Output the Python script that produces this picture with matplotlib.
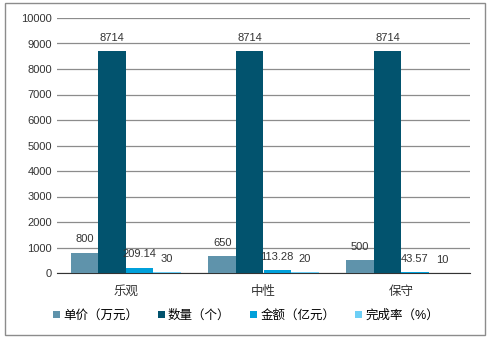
import matplotlib

matplotlib.use("Agg")
import matplotlib.pyplot as plt
import numpy as np
from matplotlib.patches import Rectangle

plt.rcParams["font.family"] = ["Liberation Sans", "Noto Sans CJK SC", "DejaVu Sans"]

categories = ["乐观", "中性", "保守"]
series_names = ["单价（万元）", "数量（个）", "金额（亿元）", "完成率（%）"]
unit_price = [800, 650, 500]
quantity = [8714, 8714, 8714]
amount = [209.14, 113.28, 43.57]
completion = [30, 20, 10]
value_labels = [
    ["800", "650", "500"],
    ["8714", "8714", "8714"],
    ["209.14", "113.28", "43.57"],
    ["30", "20", "10"],
]
colors = ["#5f93ab", "#02536e", "#00a0da", "#6dcff6"]

fig = plt.figure(figsize=(4.92, 3.42), dpi=100)
ax = fig.add_axes([57 / 492, 1 - 273 / 342, (470 - 57) / 492, (273 - 18) / 342])

x = np.arange(len(categories))
width = 0.2
all_series = [unit_price, quantity, amount, completion]
for i, vals in enumerate(all_series):
    pos = x + (i - 1.5) * width
    bars = ax.bar(pos, vals, width, color=colors[i], label=series_names[i], zorder=3)
    for b, txt in zip(bars, value_labels[i]):
        ax.annotate(txt, (b.get_x() + b.get_width() / 2, b.get_height()),
                    xytext=(0, 9.5), textcoords="offset points",
                    ha="center", va="center", fontsize=8, color="#333333")

ax.set_xlim(-0.5, 2.5)
ax.set_ylim(0, 10000)
ax.set_yticks(range(0, 10001, 1000))
ax.set_xticks(x)
ax.set_xticklabels(categories, fontsize=9)
ax.yaxis.grid(True, color="#8c8c8c", linewidth=0.9, zorder=0)
for s in ("left", "right", "top"):
    ax.spines[s].set_visible(False)
ax.spines["bottom"].set_color("#333333")
ax.tick_params(axis="both", length=0, colors="#333333")
ax.tick_params(axis="y", labelsize=8)
ax.tick_params(axis="x", pad=9)

fig.legend(loc="center", bbox_to_anchor=(246 / 492, 1 - 316 / 342), ncol=4,
           frameon=False, fontsize=9, handlelength=0.55, handleheight=0.55,
           handletextpad=0.25, columnspacing=1.6)

fig.patches.append(Rectangle((5 / 492, 1 - 335 / 342), 480 / 492, 332 / 342,
                             transform=fig.transFigure, fill=False,
                             edgecolor="#8c8c8c", linewidth=1))

fig.savefig("out.png", dpi=100)
